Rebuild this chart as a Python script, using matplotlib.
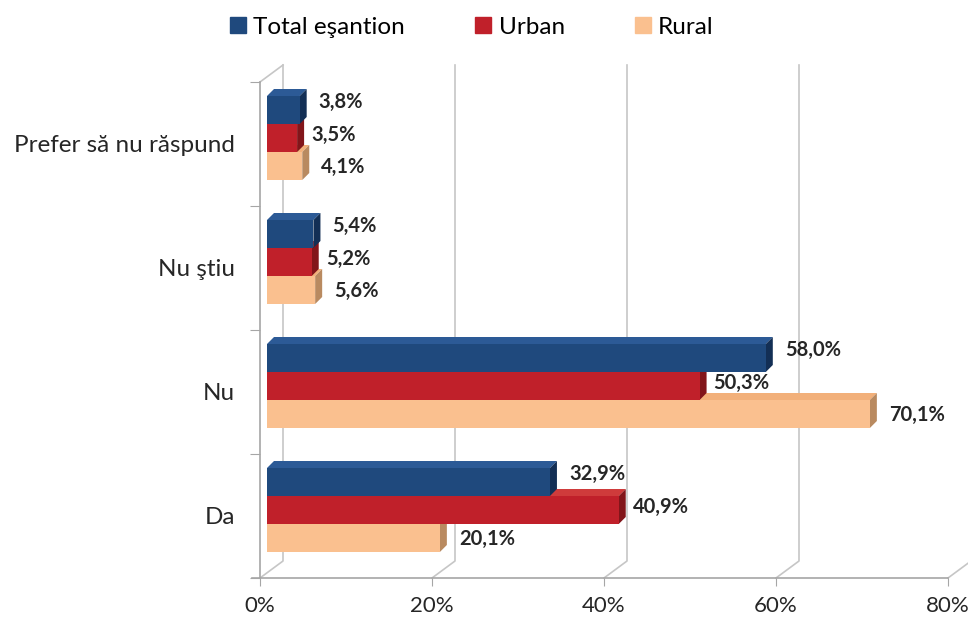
import matplotlib.pyplot as plt
from matplotlib.patches import Patch

categories = ['Da', 'Nu', 'Nu ştiu', 'Prefer să nu răspund']
series_names = ['Total eşantion', 'Urban', 'Rural']
total = [32.9, 58.0, 5.4, 3.8]
urban = [40.9, 50.3, 5.2, 3.5]
rural = [20.1, 70.1, 5.6, 4.1]
xticks = [0, 20, 40, 60, 80]
xtick_labels = ['0%', '20%', '40%', '60%', '80%']

colors = ['#1f497d', '#c0202a', '#fac08f']
side_colors = ['#132f55', '#82151a', '#b98a60']
top_colors = ['#2c5a96', '#cf3b3b', '#f2b07a']

plt.rcParams['font.family'] = ['Lato', 'DejaVu Sans']

W, H = 968, 617
fig = plt.figure(figsize=(W / 100, H / 100), dpi=100)
ax = fig.add_axes([260 / W, (H - 578) / H, 688 / W, 496 / H])
ax.set_xlim(0, 80)
ax.set_ylim(-0.5, 3.5)

# pixel -> data unit helpers
ux = 80 / 688
uy = 4 / 496

grid_c = '#c6c6c6'
axis_c = '#a6a6a6'

# back wall and floor lines (pseudo 3D)
wdx, wdy = 23 * ux, 17 * uy
for v in xticks:
    ax.plot([v, v + wdx, v + wdx], [-0.5, -0.5 + wdy, 3.5 + wdy],
            color=grid_c, lw=1.2, clip_on=False, zorder=1)
ax.plot([0, wdx], [3.5, 3.5 + wdy], color=grid_c, lw=1.2, clip_on=False, zorder=1)

# bars
bar_h = 28 * uy
shift_x = 7 * ux
shift_y = 6 * uy
bdx, bdy = 7 * ux, 7 * uy
offsets = [bar_h, 0, -bar_h]
label_dy = [8 * uy, 3 * uy, -1 * uy]
label_gap = [19 * ux, 14 * ux, 19 * ux]

data = [total, urban, rural]
for s in [2, 1, 0]:
    vals = data[s]
    for i, v in enumerate(vals):
        yc = i + shift_y + offsets[s]
        y0, y1 = yc - bar_h / 2, yc + bar_h / 2
        x0, x1 = shift_x, shift_x + v
        ax.fill([x0, x0 + bdx, x1 + bdx, x1], [y1, y1 + bdy, y1 + bdy, y1],
                color=top_colors[s], lw=0, zorder=3)
        ax.fill([x1, x1 + bdx, x1 + bdx, x1], [y0, y0 + bdy, y1 + bdy, y1],
                color=side_colors[s], lw=0, zorder=3)
        ax.barh(yc, v, left=x0, height=bar_h, color=colors[s], zorder=4)

for s in range(3):
    for i, v in enumerate(data[s]):
        yc = i + shift_y + offsets[s] + label_dy[s]
        ax.text(shift_x + v + label_gap[s], yc, f'{v:.1f}%'.replace('.', ','),
                fontsize=14.5, fontweight='bold', color='#262626',
                va='center', ha='left', zorder=6, clip_on=False)

# axes styling
for side in ['top', 'right']:
    ax.spines[side].set_visible(False)
ax.spines['left'].set_color(axis_c)
ax.spines['bottom'].set_color(axis_c)
ax.spines['left'].set_linewidth(1.2)
ax.spines['bottom'].set_linewidth(1.2)
ax.set_xticks(xticks)
ax.set_xticklabels(xtick_labels, fontsize=16, color='#262626')
ax.tick_params(axis='x', length=6, color=axis_c, pad=7)
ax.set_yticks([-0.5, 0.5, 1.5, 2.5, 3.5])
ax.set_yticklabels([])
ax.tick_params(axis='y', length=7, color=axis_c)
ax.set_yticks(range(len(categories)), minor=True)
ax.set_yticklabels(categories, minor=True, fontsize=17.5, color='#262626')
ax.tick_params(axis='y', which='minor', length=0, pad=18)
ax.plot([-8 * ux, 0], [-0.5, -0.5], color=axis_c, lw=1.2, clip_on=False)
ax.set_facecolor('none')

handles = [Patch(color=c) for c in colors]
fig.legend(handles, series_names, loc='center', ncol=3,
           bbox_to_anchor=(472 / W, 1 - 27 / H), frameon=False,
           fontsize=17.5, handlelength=0.65, handleheight=0.65,
           handletextpad=0.3, columnspacing=2.9)

fig.savefig('out.png', dpi=100)
